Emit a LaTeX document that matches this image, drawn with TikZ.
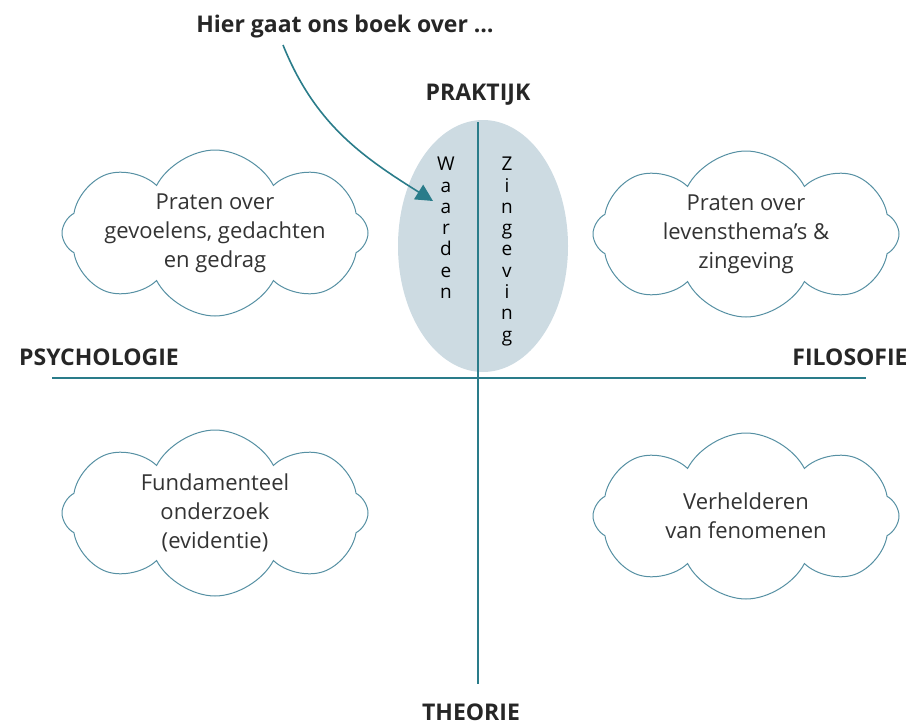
\documentclass[tikz,border=0pt]{standalone}
\usepackage{fontspec}
\setmainfont{Open Sans}
\usetikzlibrary{arrows.meta,shapes,positioning}
\definecolor{axisteal}{HTML}{2A7C8A}
\definecolor{cloudline}{HTML}{5690A3}
\definecolor{ovalfill}{HTML}{CDDBE2}
\definecolor{cloudtext}{HTML}{333333}

\begin{document}
\begin{tikzpicture}[x=1pt, y=-1pt, >={Triangle[width=17pt,length=17pt]},
                axislabel/.style={font=\fontsize{23}{28}\selectfont\bfseries, text=black!85, inner sep=0pt},
                thought/.style={cloud, draw=cloudline, line width=1pt, fill=white, cloud puffs=8, cloud puff arc=125, aspect=1.85,
                                minimum width=306pt, minimum height=166pt, inner sep=0pt, shape border rotate=10},
                cloudtxt/.style={align=center, text=cloudtext, font=\fontsize{22}{29}\selectfont},
                letters/.style={align=center, anchor=north, inner sep=0pt, font=\fontsize{19}{21.3}\selectfont}]
                \useasboundingbox (0,0) rectangle (916,725);
                % the oval sits behind the axes
                \node[ellipse, fill=ovalfill, minimum width=170pt, minimum height=252pt] (oval) at (483,246) {};
                \coordinate (vt) at (478,122);
                \coordinate (vb) at (478,684);
                \coordinate (hl) at (52,378);
                \coordinate (hr) at (866,378);
                \draw[axisteal, line width=1.2pt] (vt) -- (vb);
                \draw[axisteal, line width=1.8pt] (hl) -- (hr);

                \node[axislabel, above=16pt of vt] (praktijk) {PRAKTIJK};
                \node[axislabel] (theorie) at (471,712) {THEORIE};
                \node[axislabel] (psychologie) at (99,357) {PSYCHOLOGIE};
                \node[axislabel] (filosofie) at (850,357) {FILOSOFIE};
                \node[axislabel] (title) at (345,27) {Hier gaat ons boek over\ \ldots};

                \node[letters] (waarden) at (446,157) {W\\a\\a\\r\\d\\e\\n};
                \node[letters] (zingeving) at (507,157) {Z\\i\\n\\g\\e\\v\\i\\n\\g};

                \node[thought, label={[cloudtxt]center:Praten over\\gevoelens, gedachten\\en gedrag}] (praten1) at (215,233) {};
                \node[thought, label={[cloudtxt]center:Praten over\\levensthema’s \&\\zingeving}] (praten2) at (746,234) {};
                \node[thought, label={[cloudtxt]center:Fundamenteel\\onderzoek\\(evidentie)}] (fund) at (215,513) {};
                \node[thought, label={[cloudtxt]center:Verhelderen\\van fenomenen}] (verh) at (746,516) {};

                \coordinate (arrowstart) at (283,45);
                \coordinate (arrowend) at (433,201);
                \draw[->, axisteal, line width=1.6pt] (arrowstart) to[out=-68, in=148] (arrowend);
\end{tikzpicture}
\end{document}
